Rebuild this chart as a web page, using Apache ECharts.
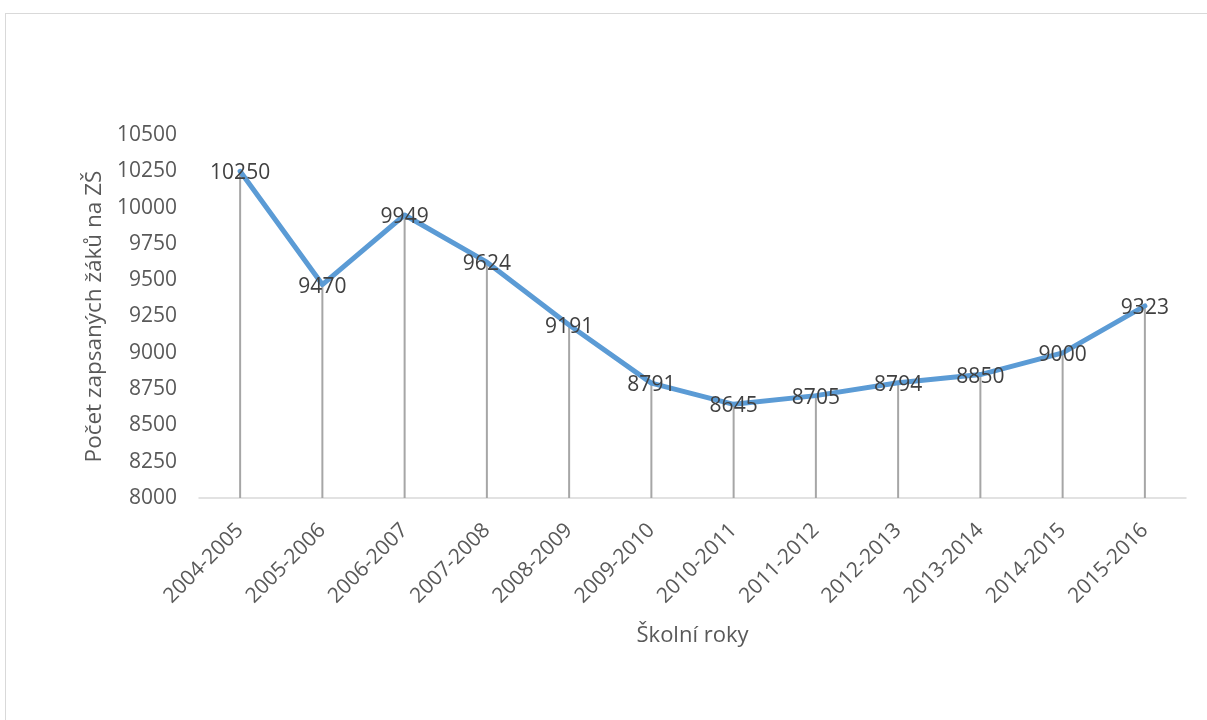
<!DOCTYPE html>
<html>
<head>
<meta charset="utf-8">
<script src="https://cdn.jsdelivr.net/npm/echarts@6/dist/echarts.min.js"></script>
<style>
html,body{margin:0;padding:0;background:#fff;}
#frame{position:absolute;left:5px;top:13px;width:1202px;height:707px;border-left:1.5px solid #d9d9d9;border-top:1.5px solid #d9d9d9;box-sizing:border-box;}
#chart{position:absolute;left:0;top:0;width:1207px;height:720px;}
</style>
</head>
<body>
<div id="frame"></div>
<div id="chart"></div>
<script>
const categories = ['2004-2005','2005-2006','2006-2007','2007-2008','2008-2009','2009-2010','2010-2011','2011-2012','2012-2013','2013-2014','2014-2015','2015-2016'];
const pupils = [10250, 9470, 9949, 9624, 9191, 8791, 8645, 8705, 8794, 8850, 9000, 9323];
const yAxisTitle = 'Počet zapsaných žáků na ZŠ';
const xAxisTitle = 'Školní roky';

const chart = echarts.init(document.getElementById('chart'), null, {renderer:'canvas'});
const font = '"Open Sans", sans-serif';
chart.setOption({
  animation:false,
  backgroundColor:'transparent',
  grid:{left:199,right:21,top:135,bottom:222,containLabel:false},
  xAxis:{
    type:'category',
    data:categories,
    boundaryGap:true,
    name:xAxisTitle,
    nameLocation:'middle',
    nameGap:127,
    nameTextStyle:{fontFamily:font,fontSize:22,color:'#595959'},
    axisLine:{lineStyle:{color:'#d9d9d9',width:1.5}},
    axisTick:{show:false},
    axisLabel:{rotate:45,fontFamily:font,fontSize:21,color:'#595959',margin:29,interval:0}
  },
  yAxis:{
    type:'value',
    min:8000,max:10500,interval:250,
    name:yAxisTitle,
    nameLocation:'middle',
    nameGap:92,
    nameRotate:90,
    nameTextStyle:{fontFamily:font,fontSize:22.5,color:'#595959'},
    axisLine:{show:false},
    axisTick:{show:false},
    splitLine:{show:false},
    axisLabel:{fontFamily:font,fontSize:21,color:'#595959',margin:22,formatter:function(v){return String(v);}}
  },
  series:[
    {
      type:'bar',
      data:pupils,
      barWidth:2,
      itemStyle:{color:'#a6a6a6'},
      silent:true,
      z:1
    },
    {
      type:'line',
      data:pupils,
      symbol:'circle',
      symbolSize:1,
      showSymbol:true,
      itemStyle:{color:'#5b9bd5'},
      lineStyle:{color:'#5b9bd5',width:5,cap:'round',join:'round'},
      label:{show:true,position:'inside',offset:[0,2],fontFamily:font,fontSize:21,color:'#404040'},
      z:3
    }
  ]
});
</script>
</body>
</html>
